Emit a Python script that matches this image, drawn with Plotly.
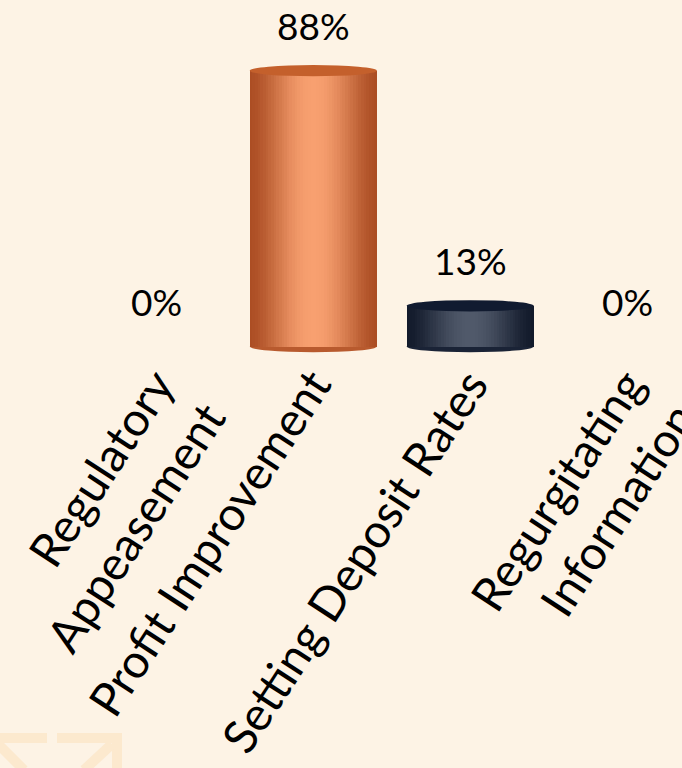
import plotly.graph_objects as go
import numpy as np

categories = ["Regulatory<br>Appeasement", "Profit Improvement", "Setting Deposit Rates", "Regurgitating<br>Information"]
values = [0, 88, 13, 0]
labels = ["0%", "88%", "13%", "0%"]

BG = "#FDF3E5"
W, H = 682, 768
ML, MR, MT, MB = 78, 0, 33, 412
FONT = "Lato"

bar_w = 0.81
n_slices = 48

styles = {
    1: dict(edge=(172, 78, 36), center=(248, 160, 112), top="#C4602C", bottom="#B85A2E"),
    2: dict(edge=(18, 26, 43), center=(80, 89, 106), top="#111B30", bottom="#1A2336"),
}

fig = go.Figure()

def mix(a, b, t):
    return "rgb(%d,%d,%d)" % tuple(int(round(a[k] + (b[k] - a[k]) * t)) for k in range(3))

for i, v in enumerate(values):
    if v <= 0 or i not in styles:
        continue
    st = styles[i]
    t = (np.arange(n_slices) + 0.5) / n_slices
    shade = np.sin(np.pi * t) ** 1.6
    cols = [mix(st["edge"], st["center"], s) for s in shade]
    xs = i - bar_w / 2 + t * bar_w
    fig.add_trace(go.Bar(
        x=xs, y=[v] * n_slices, width=bar_w / n_slices * 1.04,
        marker=dict(color=cols, line=dict(width=0)),
        hoverinfo="skip", showlegend=False,
    ))
    fig.add_shape(type="circle", xref="x", yref="y",
                  x0=i - bar_w / 2, x1=i + bar_w / 2, y0=v - 1.8, y1=v + 1.8,
                  fillcolor=st["top"], line=dict(width=0), layer="above")
    fig.add_shape(type="circle", xref="x", yref="y",
                  x0=i - bar_w / 2, x1=i + bar_w / 2, y0=-1.8, y1=1.8,
                  fillcolor=st["bottom"], line=dict(width=0), layer="below")

for i, (v, lab) in enumerate(zip(values, labels)):
    fig.add_annotation(x=i, y=v, text=lab, showarrow=False, yanchor="bottom",
                       yshift=21, font=dict(family=FONT, size=37, color="#000000"))

pw, ph = W - ML - MR, H - MT - MB
def px(x):
    return (x - ML) / pw
def py(y):
    return (H - MB - y) / ph
wm = "#FCE9CE"
for (x0, y0, x1, y1) in [(0, 738, 47, 738), (57, 738, 122, 738), (117, 733, 117, 770),
                         (-2, 744, 24, 770), (112, 744, 84, 770)]:
    fig.add_shape(type="line", xref="paper", yref="paper",
                  x0=px(x0), y0=py(y0), x1=px(x1), y1=py(y1),
                  line=dict(color=wm, width=10), layer="below")

fig.update_layout(
    width=W, height=H,
    margin=dict(l=ML, r=MR, t=MT, b=MB, autoexpand=False),
    paper_bgcolor=BG, plot_bgcolor="rgba(0,0,0,0)",
    barmode="overlay", bargap=0,
    showlegend=False,
)
fig.update_xaxes(range=[-0.5, 3.35], tickmode="array", tickvals=list(range(len(categories))),
                 ticktext=categories, tickangle=-57, showgrid=False, zeroline=False,
                 showline=False, ticks="", ticklabeloverflow="allow", automargin=False,
                 ticklabelstandoff=-9,
                 tickfont=dict(family=FONT, size=47, color="#000000"))
fig.update_yaxes(range=[-3, 100], visible=False, showgrid=False, zeroline=False, automargin=False)

fig.write_html("out.html", config={"displayModeBar": False},
               post_script="document.body.style.margin='0';document.body.style.overflow='hidden';")
